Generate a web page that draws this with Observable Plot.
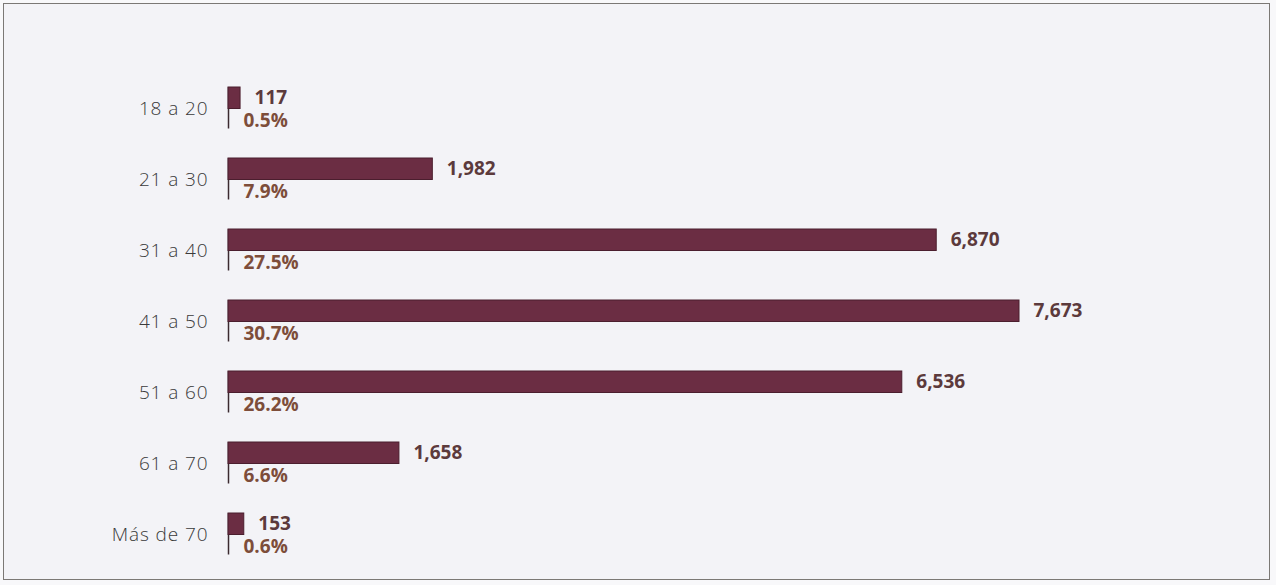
<!DOCTYPE html>
<html><head><meta charset="utf-8">
<script src="https://cdn.jsdelivr.net/npm/d3@7"></script>
<script src="https://cdn.jsdelivr.net/npm/@observablehq/plot@0.6"></script>
<style>
html,body{margin:0;padding:0;background:#f8f8fa;width:1276px;height:585px;overflow:hidden}
#frame{position:absolute;left:3px;top:3px;width:1265px;height:575px;border:1.5px solid #7b7875;background:#f3f3f7}
#chart{position:absolute;left:0;top:0}
g[aria-label="y-axis tick label"] text{letter-spacing:0.9px;font-weight:300}
</style></head><body>
<div id="frame"></div>
<div id="chart"></div>
<script>
const categories = ["18 a 20", "21 a 30", "31 a 40", "41 a 50", "51 a 60", "61 a 70", "Más de 70"];
const counts = [117, 1982, 6870, 7673, 6536, 1658, 153];
const countLabels = ["117", "1,982", "6,870", "7,673", "6,536", "1,658", "153"];
const percentLabels = ["0.5%", "7.9%", "27.5%", "30.7%", "26.2%", "6.6%", "0.6%"];

const data = categories.map((c, i) => ({cat: c, n: counts[i], nl: countLabels[i], pl: percentLabels[i]}));

const W = 1276, H = 585, rowH = 71.5, topM = 75;
const chart = Plot.plot({
  width: W, height: H,
  marginLeft: 228, marginRight: 257, marginTop: topM, marginBottom: H - topM - rowH * categories.length,
  x: {domain: [0, 7673], axis: null},
  y: {domain: categories, padding: 0, axis: null},
  style: {background: "transparent", fontFamily: "'Open Sans', sans-serif"},
  marks: [
    Plot.ruleX(data, {x: 0, y1: "cat", y2: "cat", stroke: "#3b2a30", strokeWidth: 1.5, insetTop: 10, insetBottom: rowH - 52}),
    Plot.barX(data, {x: "n", y: "cat", fill: "#6b2d43", stroke: "#4b1e2e", strokeWidth: 1, insetTop: 10, insetBottom: rowH - 32}),
    Plot.axisY({tickSize: 0, tickPadding: 20, fontSize: 19, dy: -4, color: "#3a3a3a", label: null}),
    Plot.text(data, {x: "n", y: "cat", text: "nl", textAnchor: "start", dx: 14, dy: -15.5, fontSize: 19, fontWeight: 700, fill: "#5c3a3c"}),
    Plot.text(data, {x: 0, y: "cat", text: "pl", textAnchor: "start", dx: 15, dy: 8, fontSize: 19, fontWeight: 700, fill: "#7d4d3a"})
  ]
});
document.getElementById("chart").appendChild(chart);
</script>
</body></html>
